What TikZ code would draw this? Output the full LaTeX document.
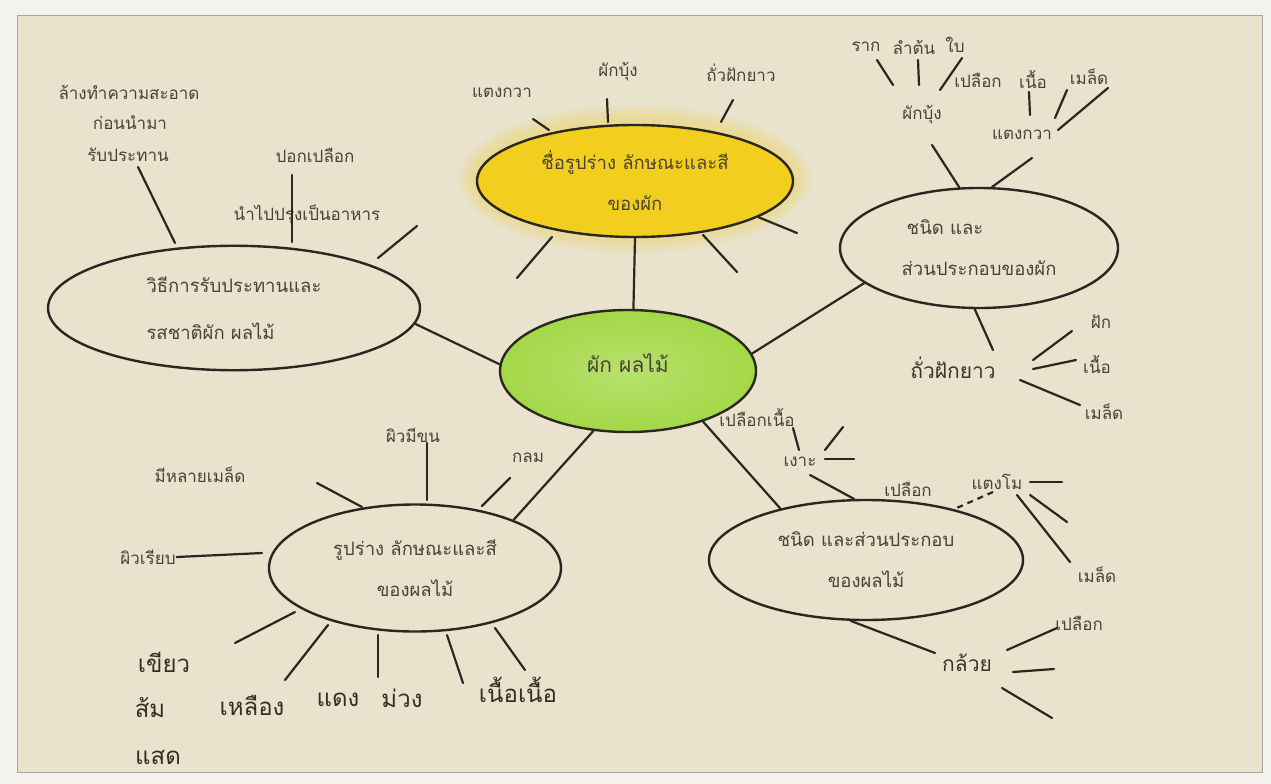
\documentclass[tikz,border=0pt]{standalone}
\usepackage{fontspec}
\newfontfamily\thai[Script=Thai]{Loma}
\usetikzlibrary{shapes.geometric}
\definecolor{paper}{HTML}{E9E2CD}
\definecolor{outer}{HTML}{F3F2EE}
\definecolor{ink}{HTML}{2B2620}
\definecolor{txt}{HTML}{4A4236}
\definecolor{yel}{HTML}{F2CF1F}
\definecolor{yelglow}{HTML}{F1D658}
\definecolor{grn}{HTML}{A3D846}
\tikzset{
  lab/.style={font=\thai\fontsize{17}{19}\selectfont, text=txt, inner sep=1pt},
  mid/.style={font=\thai\fontsize{21}{23}\selectfont, text=txt!80!black, inner sep=1pt},
  big/.style={font=\thai\fontsize{24}{26}\selectfont, text=txt!70!black, inner sep=1pt},
  oval/.style={ellipse, draw=ink, line width=2.4pt, inner sep=0pt, align=center,
     font=\thai\fontsize{18.5}{41}\selectfont, text=txt},
  ln/.style={draw=ink, line width=2.2pt, line cap=round},
  dln/.style={draw=ink, line width=2.2pt, dash pattern=on 6pt off 5pt}
}
\begin{document}
\begin{tikzpicture}[x=1pt,y=-1pt]
\useasboundingbox (0,0) rectangle (1271,784);
\fill[outer] (0,0) rectangle (1271,784);
\fill[paper, draw=gray!70, line width=0.8pt] (17,15) rectangle (1262,772);

% ---------- main ellipses ----------
\foreach \k in {1,...,6}{
  \fill[yelglow, opacity=.10] (635,179) ellipse [x radius=158+3*\k, y radius=56+3*\k];
}
\node[oval, shade, inner color=grn!78!white, outer color=grn, minimum width=256pt, minimum height=122pt] (g) at (628,371) {\fontsize{21}{24}\selectfont\raisebox{16pt}{ผัก ผลไม้}};
\node[oval, fill=yel, minimum width=316pt, minimum height=112pt] (y) at (635,181) {ชื่อรูปร่าง ลักษณะและสี\\ของผัก};
\node[oval, minimum width=372pt, minimum height=124pt] (l) at (234,308) {\begin{tabular}{@{}l@{}}วิธีการรับประทานและ\\[6pt]รสชาติผัก ผลไม้\end{tabular}};
\node[oval, minimum width=278pt, minimum height=120pt] (r) at (979,248) {\hspace*{-68pt}ชนิด และ\\ส่วนประกอบของผัก};
\node[oval, minimum width=314pt, minimum height=120pt] (br) at (866,560) {ชนิด และส่วนประกอบ\\ของผลไม้};
\node[oval, minimum width=292pt, minimum height=127pt] (bl) at (415,568) {รูปร่าง ลักษณะและสี\\ของผลไม้};

\draw[ln] (y.-90) -- (g.85);
\draw[ln] (g.177) -- (l.-5);
\draw[ln] (g.8) -- (r.197);
\draw[ln] (g.240) -- (bl.26);
\draw[ln] (g.326) -- (br.149);

% ---------- yellow cluster ----------
\node[lab] (ytk) at (502,93) {แตงกวา};
\node[lab] (ypb) at (618,72) {ผักบุ้ง};
\node[lab] (ytf) at (741,73) {ถั่วฝักยาว};
\coordinate (y1a) at (533,119); \coordinate (y1b) at (549,130);
\coordinate (y2a) at (607,99);  \coordinate (y2b) at (608,122);
\coordinate (y3a) at (733,100); \coordinate (y3b) at (721,122);
\coordinate (y4a) at (552,237); \coordinate (y4b) at (517,278);
\coordinate (y5a) at (703,235); \coordinate (y5b) at (737,272);
\coordinate (y6a) at (758,217); \coordinate (y6b) at (797,233);
\draw[ln] (y1a) -- (y1b);
\draw[ln] (y2a) -- (y2b);
\draw[ln] (y3a) -- (y3b);
\draw[ln] (y4a) -- (y4b);
\draw[ln] (y5a) -- (y5b);
\draw[ln] (y6a) -- (y6b);

% ---------- left cluster ----------
\node[lab] (lw1) at (129,92) {ล้างทำความสะอาด};
\node[lab] (lw2) at (130,123) {ก่อนนำมา};
\node[lab] (lw3) at (128,155) {รับประทาน};
\node[lab] (lpk) at (315,155) {ปอกเปลือก};
\node[lab] (lcook) at (307,215) {นำไปปรุงเป็นอาหาร};
\coordinate (l1a) at (138,167); \coordinate (l1b) at (175,243);
\coordinate (l2a) at (292,175); \coordinate (l2b) at (292,242);
\coordinate (l3a) at (378,258); \coordinate (l3b) at (417,226);
\draw[ln] (l1a) -- (l1b);
\draw[ln] (l2a) -- (l2b);
\draw[ln] (l3a) -- (l3b);

% ---------- right-top cluster ----------
\node[lab] (rpb) at (922,115) {ผักบุ้ง};
\node[lab] (rtk) at (1022,135) {แตงกวา};
\node[lab] (rrt) at (866,47) {ราก};
\node[lab] (rst) at (914,47) {ลำต้น};
\node[lab] (rlf) at (955,45) {ใบ};
\node[lab] (rpl) at (978,80) {เปลือก};
\node[lab] (rnu) at (1033,80) {เนื้อ};
\node[lab] (rsd) at (1089,77) {เมล็ด};
\coordinate (rpbl) at (932,145);
\draw[ln] (rpbl) -- (r.108);
\coordinate (rk1) at (1032,158);
\draw[ln] (rk1) -- (r.78);
\coordinate (ra1) at (877,60); \coordinate (ra2) at (893,85);
\coordinate (rs1) at (918,60); \coordinate (rs2) at (919,85);
\coordinate (rl1) at (962,58); \coordinate (rl2) at (940,90);
\coordinate (rn1) at (1029,92); \coordinate (rn2) at (1030,115);
\coordinate (rd1) at (1067,90); \coordinate (rd2) at (1055,118);
\coordinate (rx1) at (1108,88); \coordinate (rx2) at (1058,130);
\draw[ln] (ra1) -- (ra2);
\draw[ln] (rs1) -- (rs2);
\draw[ln] (rl1) -- (rl2);
\draw[ln] (rn1) -- (rn2);
\draw[ln] (rd1) -- (rd2);
\draw[ln] (rx1) -- (rx2);

% ถั่วฝักยาว
\node[mid] (rbean) at (953,368) {ถั่วฝักยาว};
\node[lab] (rpod) at (1101,322) {ฝัก};
\node[lab] (rmeat) at (1097,365) {เนื้อ};
\node[lab] (rseed) at (1104,412) {เมล็ด};
\coordinate (rb0) at (993,350);
\draw[ln] (r.-94) -- (rb0);
\coordinate (rb1a) at (1033,360); \coordinate (rb1b) at (1072,331);
\coordinate (rb2a) at (1033,369); \coordinate (rb2b) at (1076,360);
\coordinate (rb3a) at (1020,380); \coordinate (rb3b) at (1080,405);
\draw[ln] (rb1a) -- (rb1b);
\draw[ln] (rb2a) -- (rb2b);
\draw[ln] (rb3a) -- (rb3b);

% ---------- bottom-right cluster ----------
\node[lab] (bpn) at (757,418) {เปลือกเนื้อ};
\node[lab] (brb) at (800,462) {เงาะ};
\coordinate (n1a) at (793,428); \coordinate (n1b) at (799,450);
\coordinate (n2a) at (825,450); \coordinate (n2b) at (843,427);
\coordinate (n3a) at (825,459); \coordinate (n3b) at (854,459);
\coordinate (n4a) at (810,475);
\draw[ln] (n1a) -- (n1b);
\draw[ln] (n2a) -- (n2b);
\draw[ln] (n3a) -- (n3b);
\draw[ln] (n4a) -- (br.101);
\node[lab] (bpl) at (908,489) {เปลือก};
\node[lab] (bwm) at (997,482) {แตงโม};
\node[lab] (bsd) at (1097,575) {เมล็ด};
\coordinate (w0) at (993,492);
\draw[dln] (w0) -- (br.30);
\coordinate (w1a) at (1030,482); \coordinate (w1b) at (1062,482);
\coordinate (w2a) at (1030,495); \coordinate (w2b) at (1067,522);
\coordinate (w3a) at (1017,495); \coordinate (w3b) at (1070,562);
\draw[ln] (w1a) -- (w1b);
\draw[ln] (w2a) -- (w2b);
\draw[ln] (w3a) -- (w3b);
\node[mid] (bban) at (967,663) {กล้วย};
\node[lab] (bbp) at (1079,623) {เปลือก};
\coordinate (k0) at (935,653);
\draw[ln] (br.-104) -- (k0);
\coordinate (k1a) at (1007,650); \coordinate (k1b) at (1057,628);
\coordinate (k2a) at (1013,672); \coordinate (k2b) at (1054,669);
\coordinate (k3a) at (1002,688); \coordinate (k3b) at (1052,718);
\draw[ln] (k1a) -- (k1b);
\draw[ln] (k2a) -- (k2b);
\draw[ln] (k3a) -- (k3b);

% ---------- bottom-left cluster ----------
\node[lab] (fhair) at (413,435) {ผิวมีขน};
\node[lab] (fround) at (528,458) {กลม};
\node[lab] (fseeds) at (200,475) {มีหลายเมล็ด};
\node[lab] (fsmooth) at (148,557) {ผิวเรียบ};
\coordinate (f1a) at (427,443); \coordinate (f1b) at (427,500);
\coordinate (f2a) at (510,478); \coordinate (f2b) at (482,506);
\coordinate (f3a) at (317,483); \coordinate (f3b) at (362,507);
\coordinate (f4b) at (262,553);
\draw[ln] (f1a) -- (f1b);
\draw[ln] (f2a) -- (f2b);
\draw[ln] (f3a) -- (f3b);
\draw[ln] (fsmooth.east) -- (f4b);
\node[big] (cg) at (164,662) {เขียว};
\node[big] (co) at (150,708) {ส้ม};
\node[big] (cs) at (158,757) {แสด};
\node[big] (cy) at (252,705) {เหลือง};
\node[big] (cr) at (338,700) {แดง};
\node[big] (cp) at (402,698) {ม่วง};
\node[big] (cm) at (518,690) {เนื้อเนื้อ};
\coordinate (c1a) at (295,612); \coordinate (c1b) at (235,643);
\coordinate (c2a) at (328,625); \coordinate (c2b) at (285,680);
\coordinate (c3a) at (378,635); \coordinate (c3b) at (378,677);
\coordinate (c4a) at (447,635); \coordinate (c4b) at (463,683);
\coordinate (c5a) at (495,628); \coordinate (c5b) at (525,670);
\draw[ln] (c1a) -- (c1b);
\draw[ln] (c2a) -- (c2b);
\draw[ln] (c3a) -- (c3b);
\draw[ln] (c4a) -- (c4b);
\draw[ln] (c5a) -- (c5b);
\end{tikzpicture}
\end{document}
